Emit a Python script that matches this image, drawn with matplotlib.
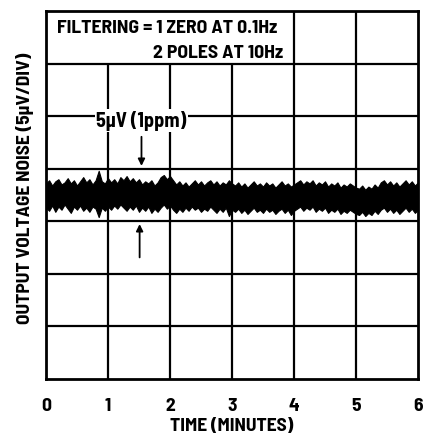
import numpy as np
import matplotlib
matplotlib.use("Agg")
import matplotlib.pyplot as plt

# ---- data ----
time_min = [i * 0.05 for i in range(121)]
noise_upper = [
    18.6, 18.9, 18.4, 18.8, 19.0, 18.5, 18.7, 19.1, 18.6, 18.9, 18.4, 18.8, 19.2, 18.7, 19.0, 18.5, 18.9, 19.8, 18.8, 18.6, 19.1,
    18.7, 19.0, 18.6, 19.2, 18.9, 19.3, 18.8, 19.1, 18.7, 19.0, 18.5, 18.8, 18.6, 18.9, 18.4, 18.7, 19.2, 19.4, 19.0, 19.3,
    18.9, 18.5, 18.8, 18.4, 18.7, 18.3, 18.6, 18.9, 18.5, 18.8, 18.4, 18.7, 18.9, 18.5, 18.8, 18.4, 18.7, 18.5, 18.9, 18.6,
    18.4, 18.7, 18.3, 18.6, 18.2, 18.5, 18.8, 18.4, 18.6, 18.3, 18.7, 18.4, 18.6, 18.2, 18.5, 18.8, 18.4, 18.6, 18.3, 18.5,
    18.7, 18.9, 18.5, 18.8, 18.6, 18.9, 18.4, 18.7, 18.5, 18.8, 18.3, 18.6, 18.4, 18.7, 18.2, 18.5, 18.3, 18.6, 18.4, 18.2,
    18.1, 18.4, 18.0, 18.3, 18.1, 18.5, 18.2, 18.7, 18.9, 18.5, 18.8, 18.4, 18.7, 18.3, 18.6, 18.9, 18.5, 18.8, 18.4, 18.7,
]
noise_lower = [
    16.3, 16.0, 16.5, 15.9, 16.4, 16.1, 16.6, 16.2, 15.8, 16.4, 16.1, 16.5, 16.0, 16.3, 15.9, 16.4, 16.2, 15.4, 16.3, 16.0, 16.4,
    16.1, 16.5, 16.2, 16.6, 16.3, 16.0, 16.4, 16.1, 16.5, 15.9, 16.3, 16.0, 16.4, 15.8, 16.2, 15.9, 16.3, 16.6, 16.2, 16.5,
    16.1, 15.8, 16.2, 15.9, 16.3, 16.0, 16.4, 16.1, 16.3, 15.9, 16.2, 16.0, 16.4, 16.1, 15.8, 16.2, 15.9, 16.3, 15.5, 16.1,
    15.9, 16.2, 15.8, 16.1, 15.7, 16.0, 16.3, 15.9, 16.1, 15.8, 16.2, 15.9, 16.1, 15.7, 16.0, 16.2, 15.8, 16.1, 15.6, 16.0,
    16.2, 16.4, 16.0, 16.3, 16.1, 16.4, 15.9, 16.2, 16.0, 16.3, 15.8, 16.1, 15.9, 16.2, 15.7, 16.0, 15.8, 16.1, 15.9, 15.7,
    15.6, 15.9, 15.5, 15.8, 15.6, 16.0, 15.7, 16.1, 16.3, 15.9, 16.2, 15.8, 16.1, 15.7, 16.0, 16.3, 15.9, 16.2, 15.8, 16.1,
]
x_ticks = [0, 1, 2, 3, 4, 5, 6]
x_tick_labels = ["0", "1", "2", "3", "4", "5", "6"]
y_div = [5, 10, 15, 20, 25, 30]

FONT = ["Barlow Semi Condensed", "DejaVu Sans"]
TXT = dict(fontfamily=FONT, fontweight="bold")

fig = plt.figure(figsize=(4.23, 4.35), dpi=100)
ax = fig.add_axes([46 / 423, 55 / 435, 372 / 423, 368 / 435])
ax.set_xlim(0, 6)
ax.set_ylim(0, 35)

# grid
for y in y_div:
    ax.hlines(y, 0, 6, color="black", lw=1.6, zorder=1)
for x in [1, 2, 3]:
    ax.vlines(x, 0, 30, color="black", lw=1.6, zorder=1)
for x in [4, 5]:
    ax.vlines(x, 0, 35, color="black", lw=1.6, zorder=1)

# noise trace
ax.fill_between(time_min, noise_lower, noise_upper, color="black", lw=0.8,
                edgecolor="black", zorder=3)

for s in ax.spines.values():
    s.set_linewidth(2.0)

ax.set_xticks(x_ticks)
ax.set_xticklabels(x_tick_labels, fontsize=14, **TXT)
ax.set_yticks([])
ax.tick_params(axis="x", length=0, pad=13)
ax.set_xlabel("TIME (MINUTES)", fontsize=14, labelpad=2, **TXT)
ax.set_ylabel("OUTPUT VOLTAGE NOISE (5µV/DIV)", fontsize=14, **TXT)
ax.yaxis.set_label_coords(-0.033, 0.52)

# annotations
ax.text(0.17, 33.45, "FILTERING = 1 ZERO AT 0.1Hz", fontsize=14.2,
        va="center", ha="left", zorder=5, **TXT)
ax.text(3.83, 31.05, "2 POLES AT 10Hz", fontsize=14.2,
        va="center", ha="right", zorder=5, **TXT)
ax.text(1.54, 24.6, "5µV (1ppm)", fontsize=14.5,
        va="center", ha="center", zorder=5,
        bbox=dict(facecolor="white", edgecolor="none", pad=1.0), **TXT)

ax.annotate("", xy=(1.54, 20.0), xytext=(1.54, 23.3),
            arrowprops=dict(arrowstyle="-|>", color="black", lw=1.3, mutation_scale=10),
            zorder=5)
ax.annotate("", xy=(1.51, 15.0), xytext=(1.51, 11.3),
            arrowprops=dict(arrowstyle="-|>", color="black", lw=1.3, mutation_scale=10),
            zorder=5)

fig.savefig("out.png", dpi=100)
